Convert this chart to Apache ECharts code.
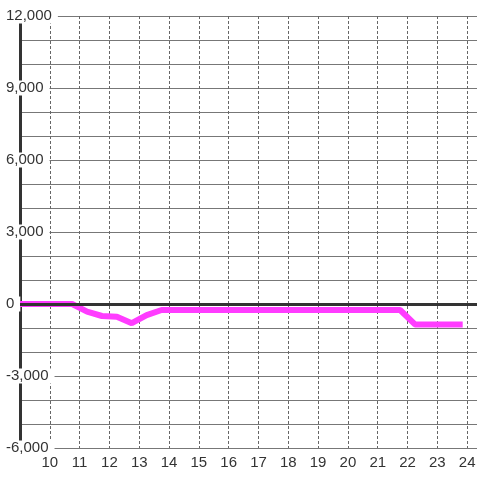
<!DOCTYPE html>
<html>
<head>
<meta charset="utf-8">
<script src="https://cdn.jsdelivr.net/npm/echarts@6/dist/echarts.min.js"></script>
<style>
  html, body { margin: 0; padding: 0; background: #fff; }
  #chart { width: 480px; height: 480px; }
</style>
</head>
<body>
<div id="chart"></div>
<script>
// hour of day (x) and value (y)
var hours = [9, 10.75, 11.25, 11.75, 12.25, 12.75, 13.25, 13.75, 21.75, 22.25, 23.85];
var values = [0, 0, -320, -500, -530, -800, -460, -250, -250, -850, -850];
var yLabelStep = 3000;

var lineData = [];
for (var i = 0; i < hours.length; i++) {
  lineData.push([hours[i], values[i]]);
}

var chart = echarts.init(document.getElementById('chart'));

var option = {
  animation: false,
  backgroundColor: '#fff',
  grid: { left: 20, right: 0, top: 16, bottom: 32 },
  xAxis: {
    type: 'value',
    min: 9,
    max: 24.33,
    interval: 1,
    axisLine: { show: false },
    axisTick: { show: false },
    axisLabel: {
      color: '#333',
      fontSize: 15,
      fontFamily: 'Liberation Sans',
      margin: 7,
      formatter: function (v) {
        if (v === 9 || v !== Math.round(v)) return '';
        return String(v);
      }
    },
    splitLine: {
      show: true,
      showMinLine: false,
      showMaxLine: false,
      lineStyle: { color: '#666', width: 1, type: [3, 2] }
    }
  },
  yAxis: {
    type: 'value',
    min: -6000,
    max: 12000,
    interval: 1000,
    axisLine: { show: true, lineStyle: { color: '#333', width: 3 } },
    axisTick: { show: false },
    axisLabel: {
      color: '#333',
      fontSize: 15,
      fontFamily: 'Liberation Sans',
      align: 'left',
      margin: 15,
      backgroundColor: '#fff',
      padding: [0, 6, 0, 1],
      formatter: function (v) {
        if (v % yLabelStep !== 0) return '';
        return v.toLocaleString('en-US');
      }
    },
    splitLine: {
      show: true,
      lineStyle: { color: '#777', width: 1 }
    }
  },
  series: [
    {
      // zero reference line
      type: 'line',
      data: [],
      z: 1,
      silent: true,
      markLine: {
        silent: true,
        symbol: 'none',
        label: { show: false },
        lineStyle: { color: '#333', width: 3, type: 'solid' },
        data: [{ yAxis: 0 }]
      }
    },
    {
      type: 'line',
      data: lineData,
      z: 3,
      showSymbol: false,
      lineStyle: { color: '#ff3cff', width: 6 },
      itemStyle: { color: '#ff3cff' }
    }
  ]
};

chart.setOption(option);
</script>
</body>
</html>
